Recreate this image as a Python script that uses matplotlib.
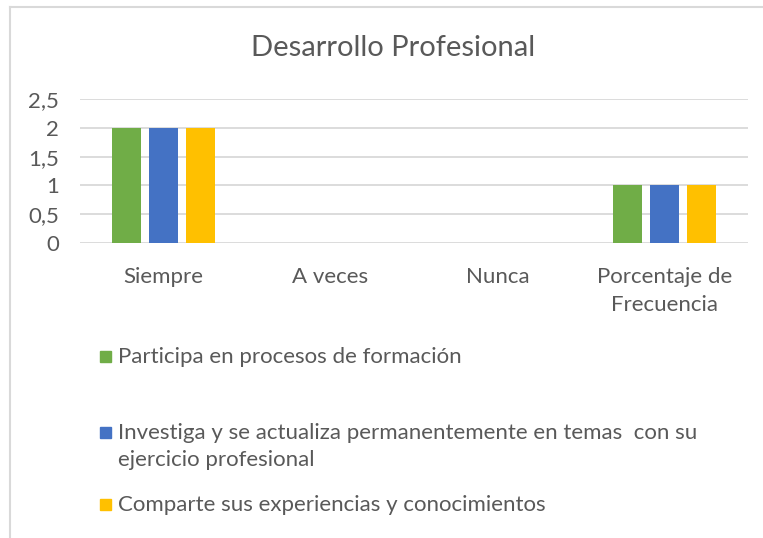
import numpy as np
import matplotlib.pyplot as plt
from matplotlib.lines import Line2D
from matplotlib.patches import Rectangle

categories = ["Siempre", "A veces", "Nunca", "Porcentaje de\nFrecuencia"]
series_names = [
    "Participa en procesos de formación",
    "Investiga y se actualiza permanentemente en temas  con su\nejercicio profesional",
    "Comparte sus experiencias y conocimientos",
]
participa = [2, 0, 0, 1]
investiga = [2, 0, 0, 1]
comparte = [2, 0, 0, 1]
colors = ["#70AD47", "#4472C4", "#FFC000"]
yticks = [0, 0.5, 1, 1.5, 2, 2.5]
ytick_labels = ["0", "0,5", "1", "1,5", "2", "2,5"]

plt.rcParams['font.family'] = ['Lato', 'DejaVu Sans']
text_col = "#595959"

W, H = 763, 538
fig = plt.figure(figsize=(W / 100, H / 100), dpi=100)
ax = fig.add_axes([80 / W, 1 - 243 / H, 668 / W, 144 / H])

x = np.arange(len(categories))
width = 0.174
step = 0.222
for i, vals in enumerate([participa, investiga, comparte]):
    ax.bar(x + (i - 1) * step, vals, width, color=colors[i], zorder=3)

ax.set_xlim(-0.5, len(categories) - 0.5)
ax.set_ylim(0, 2.5)
ax.set_yticks(yticks)
ax.set_yticklabels(ytick_labels)
ax.set_xticks(x)
ax.set_xticklabels(categories, linespacing=1.5)
ax.yaxis.grid(True, color="#D9D9D9", linewidth=1.3, zorder=0)
for s in ax.spines.values():
    s.set_visible(False)
ax.tick_params(axis="both", length=0, labelsize=16, labelcolor=text_col)
ax.tick_params(axis="x", pad=17)
ax.tick_params(axis="y", pad=15)

fig.text(393 / W, 1 - 48 / H, "Desarrollo Profesional", ha="center", va="center",
         fontsize=21, color=text_col)

# legend drawn by hand to follow the irregular spacing
rows = [357, 433, 505]
for name, col, yr in zip(series_names, colors, rows):
    fig.patches.append(Rectangle((100 / W, 1 - (yr + 5) / H), 11 / W, 11 / H,
                                 transform=fig.transFigure, color=col))
    fig.text(118 / W, 1 - (yr - 10) / H, name, ha="left", va="top",
             fontsize=16, color=text_col, linespacing=1.45)

# chart frame edges
fig.add_artist(Line2D([10 / W, 10 / W], [0, 1 - 7 / H], color="#D9D9D9", lw=1.5))
fig.add_artist(Line2D([10 / W, 1], [1 - 7 / H, 1 - 7 / H], color="#D9D9D9", lw=1.5))

fig.savefig("out.png", dpi=100)
